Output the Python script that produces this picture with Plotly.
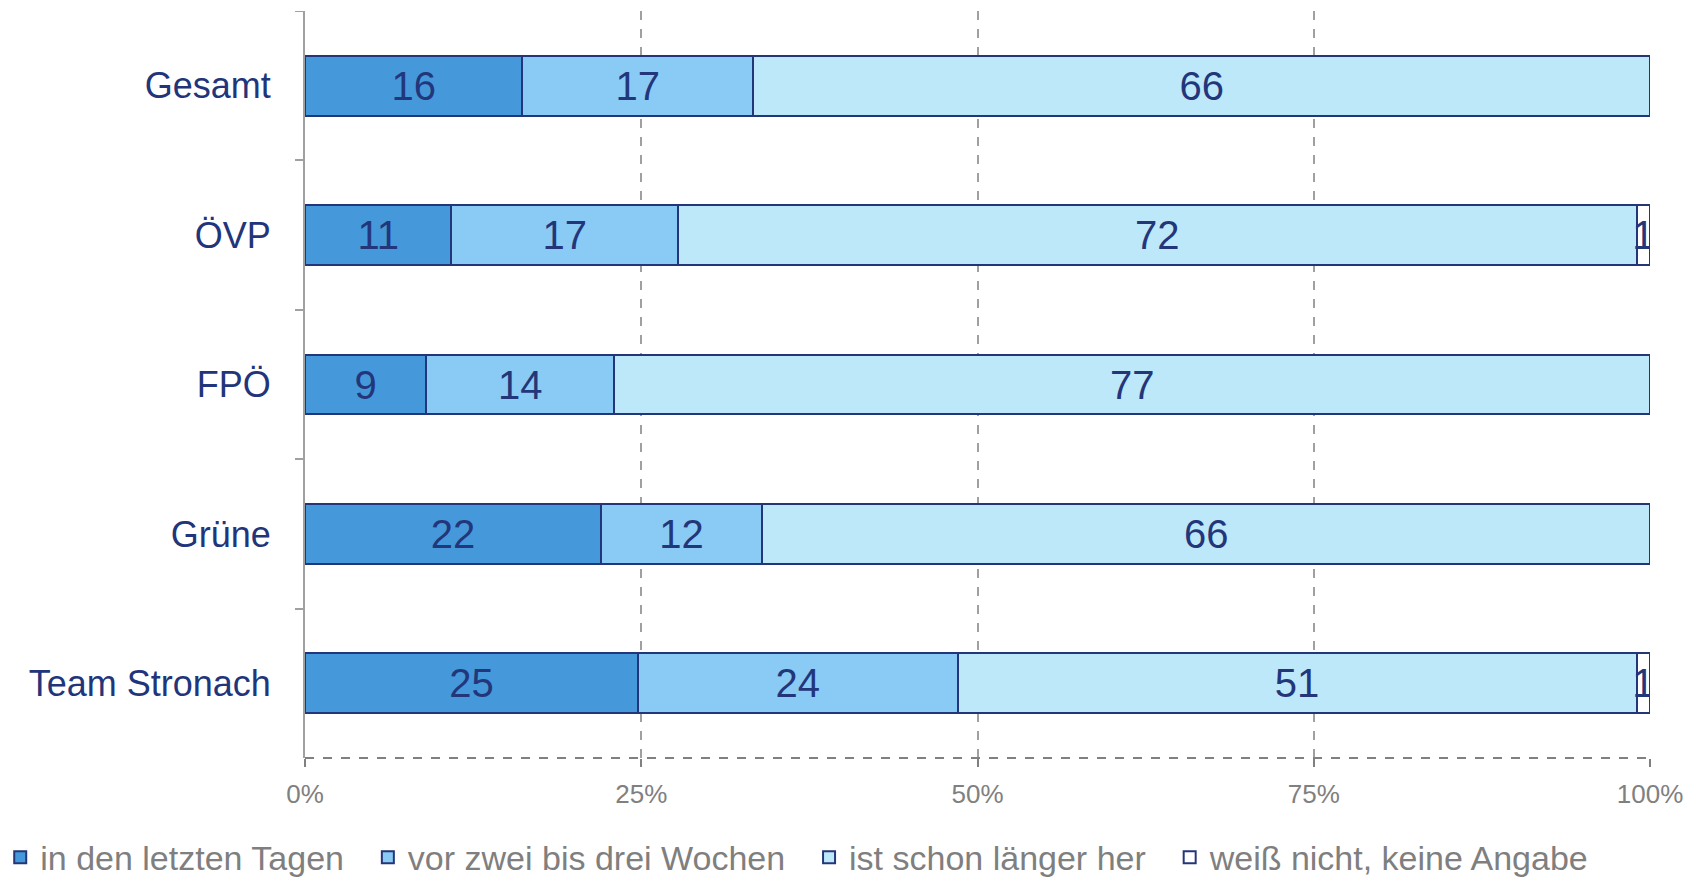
import plotly.graph_objects as go

categories = ["Gesamt", "ÖVP", "FPÖ", "Grüne", "Team Stronach"]
series_names = ["in den letzten Tagen", "vor zwei bis drei Wochen",
                "ist schon länger her", "weiß nicht, keine Angabe"]
in_den_letzten_tagen = [16, 11, 9, 22, 25]
vor_zwei_bis_drei_wochen = [17, 17, 14, 12, 24]
ist_schon_laenger_her = [66, 72, 77, 66, 51]
weiss_nicht = [0, 1, 0, 0, 1]
tick_values = [0, 25, 50, 75, 100]
tick_labels = ["0%", "25%", "50%", "75%", "100%"]

series_values = [in_den_letzten_tagen, vor_zwei_bis_drei_wochen,
                 ist_schon_laenger_her, weiss_nicht]
colors = ["#4599DA", "#8ACBF5", "#BDE8FA", "#FFFFFF"]
navy = "#23367A"
FONT = "Liberation Sans, Arial, sans-serif"
PAD = "\u00a0\u00a0"  # extra spacing between legend entries

fig = go.Figure()
for name, vals, col in zip(series_names, series_values, colors):
    fig.add_trace(go.Bar(
        y=categories, x=vals, name=name + PAD, orientation="h",
        marker=dict(color=col, line=dict(color=navy, width=2)),
        text=[str(v) if v else "" for v in vals],
        texttemplate="%{text}",
        textposition="inside", insidetextanchor="middle", textangle=0,
        textfont=dict(family=FONT, size=40, color=navy),
        width=0.4,
        hoverinfo="skip",
    ))

# The page body gets an 11px top offset (see post_script); figure top margin is 0.
fig.update_layout(
    barmode="stack", barnorm="percent",
    width=1707, height=876,
    margin=dict(l=305, r=57, t=0, b=129),
    plot_bgcolor="white", paper_bgcolor="white",
    uniformtext=dict(minsize=40, mode="show"),
    font=dict(family=FONT),
    showlegend=True,
    legend=dict(orientation="h", x=-0.2266, xanchor="left",
                y=-129 / 747 + 0.0005, yanchor="bottom",
                font=dict(family=FONT, size=34, color="#7F7F7F"),
                itemwidth=30, traceorder="normal"),
    xaxis=dict(range=[0, 100], tickvals=tick_values, ticktext=tick_labels,
               showgrid=True, gridcolor="#A0A0A0", griddash="dash", gridwidth=1.5,
               zeroline=False, showline=False,
               ticks="outside", ticklen=8, tickcolor="#808080", tickwidth=1.5,
               ticklabelstandoff=5,
               tickfont=dict(family=FONT, size=26, color="#808080")),
    yaxis=dict(autorange="reversed", type="category",
               showline=True, linecolor="#A0A0A0", linewidth=2,
               ticks="outside", tickson="boundaries", ticklen=8, tickcolor="#A0A0A0",
               tickwidth=2, showgrid=False,
               tickfont=dict(family=FONT, size=36, color="#22357A"),
               ticklabelstandoff=25),
)
fig.add_shape(type="line", xref="paper", yref="paper", x0=0, x1=1, y0=0, y1=0,
              line=dict(color="#808080", width=2, dash="dash"))

fig.write_html(
    "out.html",
    config={"displayModeBar": False},
    post_script="document.body.style.margin='0';document.body.style.paddingTop='11px';"
                "document.documentElement.style.overflow='hidden';document.body.style.overflow='hidden';",
)
